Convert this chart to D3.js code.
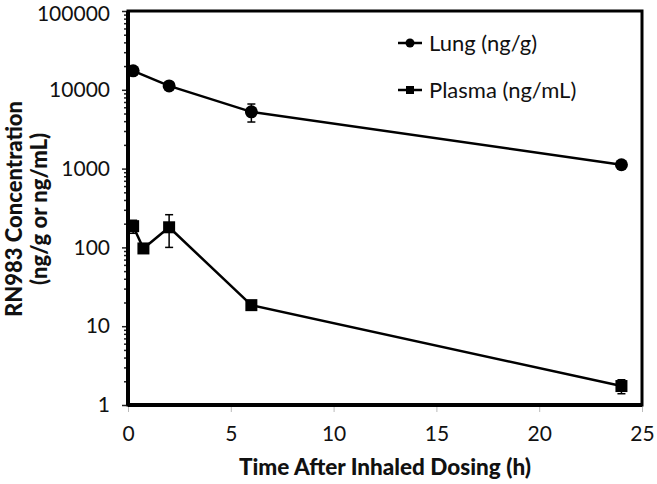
<!DOCTYPE html>
<html>
<head>
<meta charset="utf-8">
<script src="https://cdn.jsdelivr.net/npm/d3@7"></script>
<style>
  body { margin: 0; background: #fff; }
  text { font-family: Lato, "Open Sans", sans-serif; fill: #111; }
</style>
</head>
<body>
<div id="chart"></div>
<script>
// Data
const lungTime = [0.25, 2, 6, 24];
const lungConc = [17400, 11200, 5250, 1120];
const lungErr = [1200, 1100, 1350, 120];

const plasmaTime = [0.25, 0.75, 2, 6, 24];
const plasmaConc = [186, 97, 180, 18.5, 1.74];
const plasmaErr = [35, 6, 80, 1.2, 0.35];

const xTicks = [0, 5, 10, 15, 20, 25];
const yTicks = [1, 10, 100, 1000, 10000, 100000];
const seriesNames = ["Lung (ng/g)", "Plasma (ng/mL)"];

const width = 657, height = 484;
const margin = { top: 11, right: 15, bottom: 79, left: 128 };

const svg = d3.select("#chart").append("svg")
  .attr("width", width)
  .attr("height", height);

const x = d3.scaleLinear().domain([0, 25]).range([margin.left, width - margin.right]);
const y = d3.scaleLog().domain([1, 100000]).range([height - margin.bottom, margin.top]);

// minor log ticks on the y axis
const minor = [];
yTicks.slice(0, -1).forEach(d => {
  for (let k = 2; k <= 9; k++) minor.push(d * k);
});

svg.append("g")
  .attr("transform", `translate(${margin.left},0)`)
  .call(d3.axisLeft(y).tickValues(minor).tickSize(4).tickFormat(""))
  .call(g => g.select(".domain").remove())
  .selectAll("line").attr("stroke", "#222").attr("stroke-width", 1.5);

const yAxis = svg.append("g")
  .attr("transform", `translate(${margin.left},0)`)
  .call(d3.axisLeft(y).tickValues(yTicks).tickSize(6).tickPadding(12).tickFormat(d3.format("d")));
yAxis.select(".domain").remove();
yAxis.selectAll("line").attr("stroke", "#222").attr("stroke-width", 1.5);
yAxis.selectAll("text").style("font-size", "21px").attr("fill", "#111");
yAxis.selectAll("text").filter(d => d === 100000).attr("dy", "0.45em");

const xAxis = svg.append("g")
  .attr("transform", `translate(0,${height - margin.bottom})`)
  .call(d3.axisBottom(x).tickValues(xTicks).tickSize(7).tickPadding(14));
xAxis.select(".domain").remove();
xAxis.selectAll("line").attr("stroke", "#bbb").attr("stroke-width", 1);
xAxis.selectAll("text").style("font-size", "21px").attr("fill", "#111");

// plot frame
svg.append("rect")
  .attr("x", margin.left)
  .attr("y", margin.top)
  .attr("width", width - margin.left - margin.right)
  .attr("height", height - margin.top - margin.bottom)
  .attr("fill", "none")
  .attr("stroke", "#000")
  .attr("stroke-width", 3);
svg.append("line")
  .attr("x1", margin.left).attr("x2", margin.left)
  .attr("y1", margin.top).attr("y2", height - margin.bottom)
  .attr("stroke", "#000").attr("stroke-width", 4);
svg.append("line")
  .attr("x1", margin.left).attr("x2", width - margin.right)
  .attr("y1", height - margin.bottom).attr("y2", height - margin.bottom)
  .attr("stroke", "#000").attr("stroke-width", 4);

const line = d3.line().x(d => x(d.t)).y(d => y(d.c));

function drawSeries(times, concs, errs, shape) {
  const data = times.map((t, i) => ({ t, c: concs[i], e: errs[i] }));
  const g = svg.append("g");
  g.append("path")
    .datum(data)
    .attr("d", line)
    .attr("fill", "none")
    .attr("stroke", "#000")
    .attr("stroke-width", 2.5);

  // error bars
  data.forEach(d => {
    const top = y(d.c + d.e), bot = y(Math.max(d.c - d.e, 1e-3));
    g.append("line")
      .attr("x1", x(d.t)).attr("x2", x(d.t))
      .attr("y1", top).attr("y2", bot)
      .attr("stroke", "#000").attr("stroke-width", 1.5);
    [top, bot].forEach(yy => g.append("line")
      .attr("x1", x(d.t) - 4).attr("x2", x(d.t) + 4)
      .attr("y1", yy).attr("y2", yy)
      .attr("stroke", "#000").attr("stroke-width", 1.5));
  });

  if (shape === "circle") {
    g.selectAll("circle").data(data).enter().append("circle")
      .attr("cx", d => x(d.t)).attr("cy", d => y(d.c))
      .attr("r", 6.5).attr("fill", "#000");
  } else {
    g.selectAll("rect").data(data).enter().append("rect")
      .attr("x", d => x(d.t) - 6).attr("y", d => y(d.c) - 6)
      .attr("width", 12).attr("height", 12).attr("fill", "#000");
  }
}

drawSeries(lungTime, lungConc, lungErr, "circle");
drawSeries(plasmaTime, plasmaConc, plasmaErr, "square");

// legend
const legend = svg.append("g").attr("transform", "translate(398,0)");
seriesNames.forEach((name, i) => {
  const ly = 43 + i * 47;
  legend.append("line")
    .attr("x1", 0).attr("x2", 24).attr("y1", ly).attr("y2", ly)
    .attr("stroke", "#000").attr("stroke-width", 2.5);
  if (i === 0) {
    legend.append("circle").attr("cx", 12).attr("cy", ly).attr("r", 4.5).attr("fill", "#000");
  } else {
    legend.append("rect").attr("x", 8).attr("y", ly - 4).attr("width", 8).attr("height", 8).attr("fill", "#000");
  }
  legend.append("text")
    .attr("x", 31).attr("y", ly)
    .attr("dy", "0.35em")
    .style("font-size", "22px")
    .text(name);
});

// axis titles
svg.append("text")
  .attr("x", (margin.left + width - margin.right) / 2)
  .attr("y", 475)
  .attr("text-anchor", "middle")
  .style("font-size", "22.5px")
  .style("font-weight", "900")
  .text("Time After Inhaled Dosing (h)");

const yTitle = svg.append("text")
  .attr("transform", "translate(0,209) rotate(-90)")
  .attr("text-anchor", "middle")
  .style("font-size", "22px")
  .style("font-weight", "900");
yTitle.append("tspan").attr("x", 0).attr("y", 22).text("RN983 Concentration");
yTitle.append("tspan").attr("x", 0).attr("y", 47).text("(ng/g or ng/mL)");
</script>
</body>
</html>
